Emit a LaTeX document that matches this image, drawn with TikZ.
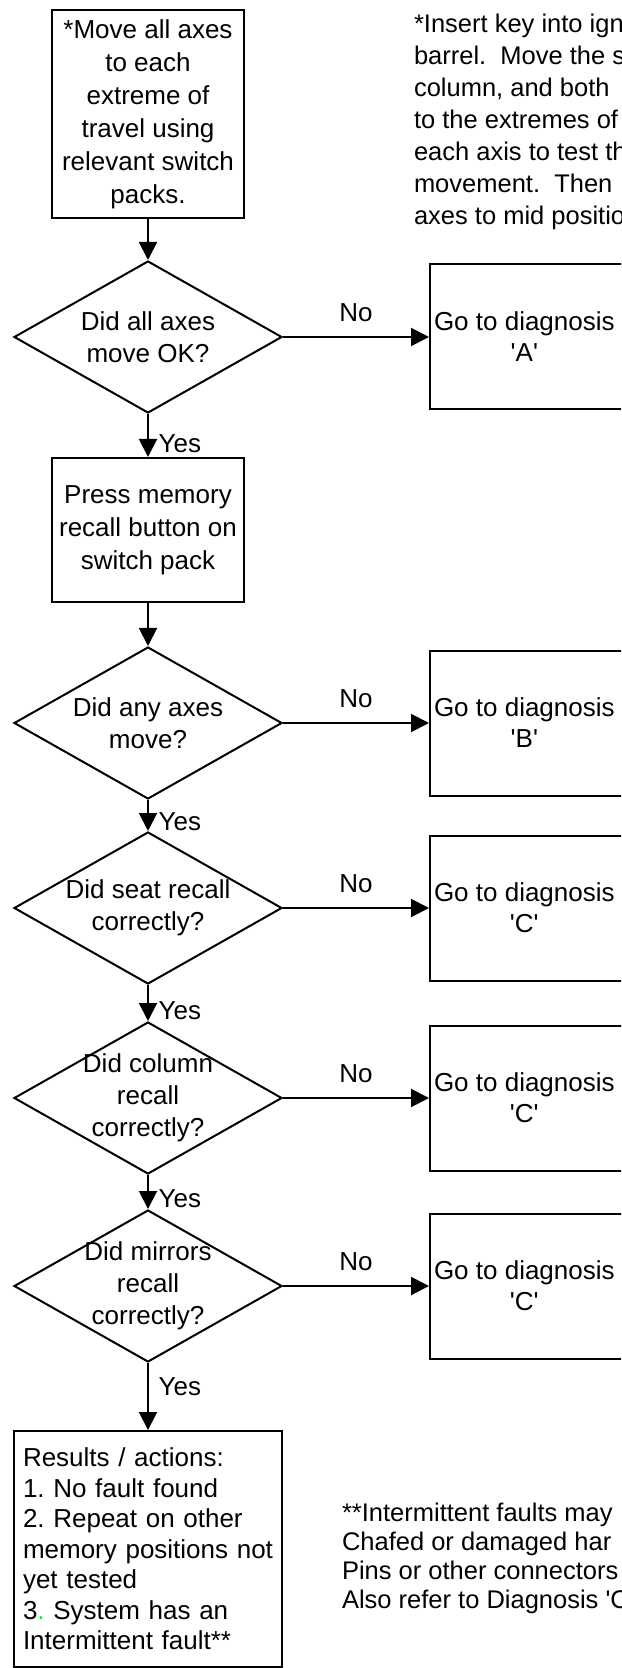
\documentclass[tikz,border=0pt]{standalone}
\usepackage{fontspec}
\setmainfont{Liberation Sans}
\usetikzlibrary{shapes,arrows.meta}
\frenchspacing
\tikzstyle{block} = [draw, rectangle, align=center, inner sep=0pt,
    minimum width=96pt, minimum height=72pt,
    font=\fontsize{13pt}{16.5pt}\selectfont]
\tikzstyle{decision} = [draw, diamond, inner sep=0pt,
    minimum width=134pt, minimum height=76pt]
\tikzstyle{dtext} = [align=center, inner sep=0pt,
    font=\fontsize{13pt}{16pt}\selectfont]
\tikzstyle{diag} = [draw, rectangle, minimum width=115pt, minimum height=72.5pt]
\tikzstyle{dlabel} = [anchor=west, align=center, inner xsep=2pt,
    font=\fontsize{13pt}{15.5pt}\selectfont]
\tikzstyle{results} = [draw, rectangle, text width=125pt, align=left,
    inner xsep=4.5pt, inner ysep=8.5pt,
    font=\fontsize{13pt}{15.25pt}\selectfont]
\tikzstyle{nolabel} = [above=4pt, midway, font=\fontsize{13pt}{15pt}\selectfont]
\tikzstyle{yeslabel} = [right=1.5pt, pos=0.7, font=\fontsize{13pt}{15pt}\selectfont]
\tikzstyle{note} = [anchor=north west, align=left, inner sep=0pt]

\begin{document}
\begin{tikzpicture}[auto, line width=1pt, >={Triangle[length=9pt,width=9pt]}]
    \useasboundingbox (0,0) rectangle (310.5pt,-834pt);
    \clip (0,0) rectangle (310.5pt,-834pt);
    % We start with the column of checks
    \node [block, minimum height=104pt] (move) at (74pt,-57pt)
        {*Move all axes\\to each\\extreme of\\travel using\\relevant switch\\packs.};
    \node [decision, below of=move, node distance=111.5pt,
            label={[dtext]center:Did all axes\\move OK?}] (allok) {};
    \node [block, below of=allok, node distance=96.5pt] (recall)
        {Press memory\\recall button on\\switch pack};
    \node [decision, below of=recall, node distance=96.5pt,
            label={[dtext]center:Did any axes\\move?}] (anymove) {};
    \node [decision, below of=anymove, node distance=92.5pt,
            label={[dtext]center:Did seat recall\\correctly?}] (seat) {};
    \node [decision, below of=seat, node distance=95pt,
            label={[dtext]center:Did column\\recall\\correctly?}] (column) {};
    \node [decision, below of=column, node distance=94pt,
            label={[dtext]center:Did mirrors\\recall\\correctly?}] (mirror) {};
    \node [results, below of=mirror, node distance=72pt, anchor=north] (results)
        {Results / actions:\\1. No fault found\\2. Repeat on other\\memory positions not\\yet tested\\3\textcolor{green}{.} System has an\\Intermittent fault**\par\vspace*{24pt}};

    % The diagnosis boxes sit to the right of each check
    \node [diag, right of=allok, node distance=198.5pt,
            label={[dlabel]west:Go to diagnosis\\\textquotesingle A\textquotesingle}] (diagA) {};
    \node [diag, right of=anymove, node distance=198.5pt,
            label={[dlabel]west:Go to diagnosis\\\textquotesingle B\textquotesingle}] (diagB) {};
    \node [diag, right of=seat, node distance=198.5pt,
            label={[dlabel]west:Go to diagnosis\\\textquotesingle C\textquotesingle}] (diagseat) {};
    \node [diag, right of=column, node distance=198.5pt,
            label={[dlabel]west:Go to diagnosis\\\textquotesingle C\textquotesingle}] (diagcolumn) {};
    \node [diag, right of=mirror, node distance=198.5pt,
            label={[dlabel]west:Go to diagnosis\\\textquotesingle C\textquotesingle}] (diagmirror) {};

    % Notes
    \node [note, font=\fontsize{12.75pt}{16pt}\selectfont] (keynote) at (206.5pt,-6.7pt)
        {*Insert key into ign\\barrel.\ \ Move the s\\column, and both\\to the extremes of\\each axis to test th\\movement.\ \ Then\\axes to mid positio};
    \node [note, font=\fontsize{12.75pt}{14.5pt}\selectfont] (faultnote) at (170.5pt,-751pt)
        {**Intermittent faults may\\Chafed or damaged har\\Pins or other connectors\\Also refer to Diagnosis \textquotesingle C};

    % Once the nodes are placed, connecting them is easy.
    \draw [->] (move) -- (allok);
    \draw [->] (allok) -- node [nolabel] {No} (diagA);
    \draw [->] (allok) -- node [yeslabel] {Yes} (recall);
    \draw [->] (recall) -- (anymove);
    \draw [->] (anymove) -- node [nolabel] {No} (diagB);
    \draw [->] (anymove) -- node [yeslabel] {Yes} (seat);
    \draw [->] (seat) -- node [nolabel] {No} (diagseat);
    \draw [->] (seat) -- node [yeslabel] {Yes} (column);
    \draw [->] (column) -- node [nolabel] {No} (diagcolumn);
    \draw [->] (column) -- node [yeslabel] {Yes} (mirror);
    \draw [->] (mirror) -- node [nolabel] {No} (diagmirror);
    \draw [->] (mirror) -- node [yeslabel, pos=0.35] {Yes} (results);
\end{tikzpicture}
\end{document}
